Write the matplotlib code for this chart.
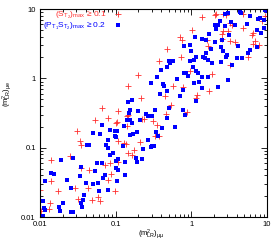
import matplotlib

matplotlib.use('Agg')
import matplotlib.pyplot as plt  # noqa: E402
from matplotlib.ticker import NullFormatter  # noqa: E402

plt.rcParams['font.family'] = ['Liberation Sans', 'DejaVu Sans']
plt.rcParams['mathtext.fontset'] = 'custom'
plt.rcParams['mathtext.rm'] = 'Liberation Sans'
plt.rcParams['mathtext.it'] = 'Liberation Sans'
plt.rcParams['mathtext.bf'] = 'Liberation Sans:bold'

COR_RED = '#ff3030'
COR_BLUE = '#0000ff'

# (S_T2)max >= 0.1
red_x = [
    0.066, 0.054, 0.079, 0.102, 0.031, 0.0334, 0.035, 0.0247, 0.0138, 0.035,
    0.045, 0.072, 0.083, 0.086, 0.078, 0.0141, 0.0101, 0.0173, 0.0287, 0.0318,
    0.043, 0.058, 0.0615, 0.0487, 0.0131, 0.0134, 0.0104, 0.099,
    1.01, 0.71, 0.745, 0.47, 0.72, 0.373, 0.195, 0.147, 0.45, 0.58,
    0.78, 0.216, 0.108, 0.147, 0.140, 0.87, 0.54, 0.46, 0.239, 0.220,
    0.315, 0.348, 0.103, 0.143, 0.331, 0.373, 0.106, 0.209, 0.130, 0.138,
    0.177, 0.147, 0.163, 0.108,
    1.37, 2.12, 2.05, 2.59, 2.84, 3.24, 3.41, 4.86, 2.65, 2.56,
    3.08, 1.59, 1.64, 2.52, 3.24, 3.78, 4.86, 6.3, 6.6, 6.9,
    6.6, 7.8, 8.5, 5.66, 3.24, 0.96, 1.85, 1.73, 1.20, 1.17, 9.5,
]
red_y = [
    0.373, 0.254, 0.268, 0.227, 0.176, 0.126, 0.108, 0.075, 0.066, 0.051,
    0.047, 0.057, 0.060, 0.042, 0.0345, 0.033, 0.0248, 0.0234, 0.026, 0.0182,
    0.026, 0.0192, 0.0172, 0.0174, 0.0130, 0.0159, 0.0121, 0.024,
    4.9, 3.9, 3.53, 2.68, 2.01, 1.76, 1.13, 0.77, 0.56, 0.78,
    0.74, 0.52, 0.334, 0.299, 0.290, 0.327, 0.417, 0.309, 0.262, 0.262,
    0.245, 0.215, 0.234, 0.203, 0.149, 0.149, 0.126, 0.119, 0.117, 0.114,
    0.094, 0.084, 0.079, 0.062,
    7.6, 8.5, 8.1, 8.5, 8.3, 6.3, 5.9, 8.5, 4.76, 4.36,
    4.76, 3.53, 2.90, 3.69, 3.49, 3.38, 5.4, 4.27, 4.5, 3.42,
    3.13, 2.99, 6.8, 2.01, 1.54, 1.26, 1.15, 0.66, 0.57, 0.52, 7.9,
]

# (P_T1 S_T2)max >= 0.2
blue_x = [
    0.065, 0.050, 0.0615, 0.083, 0.097, 0.099, 0.042, 0.044, 0.079, 0.075,
    0.079, 0.083, 0.092, 0.0188, 0.0273, 0.057, 0.065, 0.035, 0.0141, 0.0153,
    0.0115, 0.034, 0.023, 0.041, 0.054, 0.068, 0.072, 0.100, 0.102, 0.050,
    0.058, 0.026, 0.038, 0.060, 0.078, 0.011, 0.037, 0.035, 0.036, 0.020,
    0.0177, 0.0182, 0.0114, 0.0118, 0.026, 0.0273, 0.011,
    1.12, 0.80, 0.99, 0.50, 0.58, 0.52, 0.47, 0.40, 1.09, 0.96,
    0.81, 0.84, 0.91, 0.355, 0.293, 0.42, 0.43, 0.47, 0.64, 0.78,
    1.09, 0.385, 0.71, 0.166, 0.144, 0.50, 0.331, 0.199, 0.153, 0.151,
    0.141, 0.153, 0.249, 0.265, 0.30, 0.212, 0.163, 0.130, 0.103, 0.47,
    0.77, 0.82, 0.405, 0.61, 0.189, 0.171, 0.155, 0.344, 0.359, 0.265,
    0.10, 0.126, 0.305, 0.324, 0.293, 0.232, 0.108, 0.184, 0.225, 0.189,
    0.133, 0.106, 0.133, 0.103,
    2.79, 3.08, 4.4, 4.6, 5.96, 7.7, 8.1, 9.9, 2.05, 2.27,
    2.79, 2.39, 3.30, 3.78, 5.5, 2.12, 1.73, 2.05, 3.18, 1.37,
    0.96, 1.56, 2.52, 1.82, 1.55, 1.44, 1.51, 1.67, 1.17, 2.44,
    2.65, 2.93, 2.84, 4.18, 3.97, 4.72, 5.96, 5.66, 7.3, 8.3,
    9.1, 7.3, 2.44, 3.48, 1.85, 1.04, 1.17, 1.21, 1.37, 1.67,
    1.27, 1.37, 2.27, 3.08, 1.15, 9.4, 9.2,
]
blue_y = [
    0.21, 0.163, 0.157, 0.182, 0.172, 0.146, 0.110, 0.108, 0.130, 0.110,
    0.099, 0.079, 0.084, 0.067, 0.071, 0.060, 0.060, 0.052, 0.043, 0.042,
    0.033, 0.039, 0.034, 0.031, 0.046, 0.036, 0.041, 0.051, 0.064, 0.030,
    0.031, 0.026, 0.021, 0.024, 0.0248, 0.0172, 0.0178, 0.0159, 0.0138, 0.0159,
    0.0138, 0.0121, 0.0135, 0.0128, 0.0118, 0.0118, 0.0102,
    3.9, 2.9, 2.45, 1.76, 1.80, 1.66, 1.44, 1.33, 1.86, 1.76,
    1.19, 1.19, 1.07, 1.04, 0.86, 0.83, 0.77, 0.66, 0.98, 0.69,
    0.86, 0.59, 0.55, 0.49, 0.456, 0.373, 0.353, 0.342, 0.353, 0.316,
    0.254, 0.248, 0.306, 0.283, 0.283, 0.254, 0.227, 0.203, 0.172, 0.268,
    0.353, 0.299, 0.192, 0.196, 0.166, 0.159, 0.151, 0.166, 0.149, 0.130,
    0.143, 0.104, 0.104, 0.104, 0.101, 0.097, 0.069, 0.071, 0.069, 0.062,
    0.062, 0.047, 0.041, 0.033,
    8.5, 8.75, 8.95, 8.75, 7.9, 7.25, 7.4, 9.5, 5.8, 5.9,
    5.75, 6.8, 6.6, 5.8, 6.1, 5.2, 4.4, 3.30, 4.27, 3.69,
    3.06, 3.61, 3.61, 2.65, 2.32, 2.01, 1.94, 1.86, 2.05, 2.80,
    2.51, 2.15, 2.01, 2.96, 1.96, 1.96, 2.59, 2.32, 2.80, 4.5,
    5.3, 5.0, 1.70, 1.57, 1.66, 1.44, 1.26, 1.18, 1.06, 1.03,
    0.885, 0.73, 0.74, 0.96, 0.476, 9.7, 6.9,
]

ticks = [0.01, 0.1, 1, 10]
tick_labels = ['0.01', '0.1', '1', '10']

fig = plt.figure(figsize=(2.8, 2.4), dpi=100)
ax = fig.add_axes([40 / 280, 23 / 240, 227 / 280, 208 / 240])

ax.plot(red_x, red_y, '+', color=COR_RED, ms=3.8, mew=0.6,
        label=r'$(\mathrm{S}_{\mathrm{T}_2})_{\mathrm{max}}$ ≥ 0.1')
ax.plot(blue_x, blue_y, 's', color=COR_BLUE, ms=2.2, mew=0,
        label=r'$(\mathrm{P}_{\mathrm{T}_1}\mathrm{S}_{\mathrm{T}_2})_{\mathrm{max}}$ ≥ 0.2')

ax.set_xscale('log')
ax.set_yscale('log')
ax.set_xlim(0.01, 10)
ax.set_ylim(0.01, 10)
ax.set_xticks(ticks)
ax.set_xticklabels(tick_labels)
ax.set_yticks(ticks)
ax.set_yticklabels(tick_labels)
ax.xaxis.set_minor_formatter(NullFormatter())
ax.yaxis.set_minor_formatter(NullFormatter())
ax.tick_params(which='both', direction='in', top=True, right=True, width=0.6)
ax.tick_params(which='major', length=4, labelsize=5.5, pad=3)
ax.tick_params(which='minor', length=2)
for s in ax.spines.values():
    s.set_linewidth(0.8)

ax.set_xlabel(r'$(\mathrm{m}^2_{\mathrm{LR}})_{\mu\mu}$', fontsize=5.5)
ax.xaxis.set_label_coords(0.49, -0.052)
ax.set_ylabel(r'$(\mathrm{m}^2_{\mathrm{LR}})_{\mu e}$', fontsize=5.5)
ax.yaxis.set_label_coords(-0.115, 0.59)

leg = ax.legend(
    loc='upper right',
    bbox_to_anchor=((122 - 40) / 227, (217 - 10) / 208),
    markerfirst=False,
    frameon=False,
    fontsize=6,
    handlelength=1,
    handletextpad=0.9,
    labelspacing=0,
    borderpad=0,
    borderaxespad=0,
)
for t, c in zip(leg.get_texts(), [COR_RED, COR_BLUE]):
    t.set_color(c)

fig.savefig('out.png', dpi=100)
